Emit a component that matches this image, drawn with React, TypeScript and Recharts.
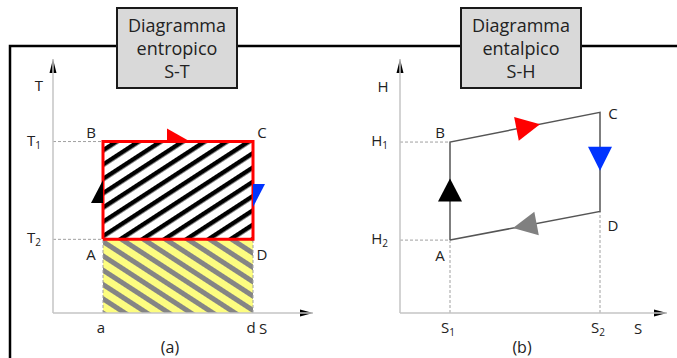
import React from "react";
import {
  LineChart,
  Line,
  XAxis,
  YAxis,
  ReferenceArea,
  ReferenceLine,
  ReferenceDot,
} from "recharts";

// ciclo A-B-C-D
const points = ["A", "B", "C", "D"];

// diagramma entropico S-T
const stS = [1, 1, 4, 4];
const stT = [2.9, 6.75, 6.75, 2.9];
const stXTicks = [1, 4];
const stXLabels = ["a", "d"];
const stYTicks = [2.9, 6.75];
const stYLabels = [["T", "2"], ["T", "1"]];

// diagramma entalpico S-H
const shS = [1, 1, 4, 4];
const shH = [2.87, 6.73, 7.9, 4.0];
const shXTicks = [1, 4];
const shXLabels = [["S", "1"], ["S", "2"]];
const shYTicks = [2.87, 6.73];
const shYLabels = [["H", "2"], ["H", "1"]];

const titles = [
  ["Diagramma", "entropico", "S-T"],
  ["Diagramma", "entalpico", "S-H"],
];
const captions = ["(a)", "(b)"];

const FONT = "'Open Sans', 'DejaVu Sans', sans-serif";
const INK = "#222";
const AXIS = "#c4c4c4";
const GUIDE = "#a0a0a0";
const LABEL = 15;

const stData = [...points, "A"].map((_, i) => ({ s: stS[i % 4], t: stT[i % 4] }));
const shData = [...points, "A"].map((_, i) => ({ s: shS[i % 4], h: shH[i % 4] }));

// triangle arrow head on a segment, tip at the segment end
const arrowShape = (color: string, len: number, hw: number, half = false) => (p: any) => {
  const dx = p.x2 - p.x1;
  const dy = p.y2 - p.y1;
  const L = Math.hypot(dx, dy) || 1;
  const ux = dx / L;
  const uy = dy / L;
  const nx = -uy;
  const ny = ux;
  const bx = p.x2 - ux * len;
  const by = p.y2 - uy * len;
  const pts = half
    ? [[p.x2, p.y2], [bx, by], [bx - nx * hw, by - ny * hw]]
    : [[p.x2, p.y2], [bx + nx * hw, by + ny * hw], [bx - nx * hw, by - ny * hw]];
  return <polygon points={pts.map((q) => q.join(",")).join(" ")} fill={color} />;
};

const textAt = (txt: string, dx: number, dy: number, size = LABEL) => (p: any) => (
  <text
    x={p.cx + dx}
    y={p.cy + dy}
    textAnchor="middle"
    dominantBaseline="central"
    fontSize={size}
    fill={INK}
    fontFamily={FONT}
  >
    {txt}
  </text>
);

const subText = (x: number, y: number, base: string, sub: string, anchor: "middle" | "end") => (
  <text x={x} y={y} textAnchor={anchor} fontSize={LABEL} fill={INK} fontFamily={FONT}>
    <tspan>{base}</tspan>
    <tspan fontSize={10} dy={3}>{sub}</tspan>
  </text>
);

const yTick = (labels: string[][]) => (p: any) =>
  subText(p.x - 12, p.y + 4, labels[p.index][0], labels[p.index][1], "end");

const axisLine = { stroke: AXIS, strokeWidth: 1.5 };

function STChart() {
  const guides = [
    [[0, stT[1]], [stS[1], stT[1]]],
    [[0, stT[0]], [stS[0], stT[0]]],
    [[stS[0], 0], [stS[0], stT[0]]],
    [[stS[3], 0], [stS[3], stT[3]]],
  ];
  const labelOffsets = [[-12, 15], [-12, -10], [9, -10], [9, 15]];
  return (
    <LineChart width={340} height={358} data={stData} margin={{ top: 59, right: 27, bottom: 0, left: 0 }}>
      <XAxis
        dataKey="s"
        type="number"
        domain={[0, 5.2]}
        ticks={stXTicks}
        height={45}
        tickSize={0}
        tickMargin={0}
        tickLine={false}
        axisLine={axisLine}
        tick={(p: any) => (
          <text x={p.x - 2} y={p.y + 20} textAnchor="middle" fontSize={LABEL} fill={INK} fontFamily={FONT}>
            {stXLabels[p.index]}
          </text>
        )}
      />
      <YAxis
        type="number"
        domain={[0, 10]}
        ticks={stYTicks}
        width={53}
        tickSize={0}
        tickMargin={0}
        tickLine={false}
        axisLine={axisLine}
        tick={yTick(stYLabels)}
      />
      {guides.map((g, i) => (
        <ReferenceLine
          key={"g" + i}
          segment={[{ x: g[0][0], y: g[0][1] }, { x: g[1][0], y: g[1][1] }]}
          stroke={GUIDE}
          strokeDasharray="3 2"
          strokeWidth={1}
        />
      ))}
      <ReferenceArea x1={stS[0]} x2={stS[3]} y1={0} y2={stT[0]} fill="url(#hatchYellow)" fillOpacity={1} stroke="none" />
      <ReferenceArea x1={stS[1]} x2={stS[2]} y1={stT[0]} y2={stT[1]} fill="url(#hatchBlack)" fillOpacity={1} stroke="none" />
      <Line dataKey="t" stroke="#ff0000" strokeWidth={3} dot={false} isAnimationActive={false} strokeLinejoin="miter" />
      {/* frecce del ciclo */}
      <ReferenceLine segment={[{ x: 2.2, y: stT[1] }, { x: 2.74, y: stT[1] }]} shape={arrowShape("#ff0000", 23, 13, true)} />
      <ReferenceLine segment={[{ x: stS[0], y: 4.5 }, { x: stS[0], y: 5.24 }]} shape={arrowShape("#000000", 23, 12, true)} />
      <ReferenceLine segment={[{ x: stS[3], y: 5.0 }, { x: stS[3], y: 4.17 }]} shape={arrowShape("#0033ff", 23, 12, true)} />
      {/* frecce degli assi */}
      <ReferenceLine segment={[{ x: 4.9, y: 0 }, { x: 5.2, y: 0 }]} shape={arrowShape("#000", 13, 3.5)} />
      <ReferenceLine segment={[{ x: 0, y: 9.4 }, { x: 0, y: 10 }]} shape={arrowShape("#000", 14, 3.5)} />
      {points.map((k, i) => (
        <ReferenceDot key={k} x={stS[i]} y={stT[i]} r={0} shape={textAt(k, labelOffsets[i][0], labelOffsets[i][1])} />
      ))}
      <ReferenceDot x={0} y={8.98} r={0} shape={textAt("T", -14, 0)} />
      <ReferenceDot x={4.2} y={0} r={0} shape={textAt("S", 0, 15)} />
      <ReferenceDot x={2.34} y={0} r={0} shape={textAt(captions[0], 0, 34, 16)} />
    </LineChart>
  );
}

function SHChart() {
  const guides = [
    [[0, shH[1]], [shS[1], shH[1]]],
    [[0, shH[0]], [shS[0], shH[0]]],
    [[shS[0], 0], [shS[0], shH[0]]],
    [[shS[3], 0], [shS[3], shH[3]]],
  ];
  const labelOffsets = [[-10, 15], [-10, -10], [13, 1], [13, 14]];
  return (
    <LineChart width={337} height={358} data={shData} margin={{ top: 59, right: 10, bottom: 0, left: 0 }}>
      <XAxis
        dataKey="s"
        type="number"
        domain={[0, 5.34]}
        ticks={shXTicks}
        height={45}
        tickSize={0}
        tickMargin={0}
        tickLine={false}
        axisLine={axisLine}
        tick={(p: any) => subText(p.x - 2, p.y + 20, shXLabels[p.index][0], shXLabels[p.index][1], "middle")}
      />
      <YAxis
        type="number"
        domain={[0, 10]}
        ticks={shYTicks}
        width={60}
        tickSize={0}
        tickMargin={0}
        tickLine={false}
        axisLine={axisLine}
        tick={yTick(shYLabels)}
      />
      {guides.map((g, i) => (
        <ReferenceLine
          key={"g" + i}
          segment={[{ x: g[0][0], y: g[0][1] }, { x: g[1][0], y: g[1][1] }]}
          stroke={GUIDE}
          strokeDasharray="3 2"
          strokeWidth={1}
        />
      ))}
      <Line dataKey="h" stroke="#555" strokeWidth={1.5} dot={false} isAnimationActive={false} />
      {/* frecce del ciclo */}
      <ReferenceLine
        segment={[{ x: 2.3, y: shH[1] + (shH[2] - shH[1]) * (1.3 / 3) }, { x: 2.8, y: shH[1] + (shH[2] - shH[1]) * (1.8 / 3) }]}
        shape={arrowShape("#ff0000", 24, 12)}
      />
      <ReferenceLine segment={[{ x: shS[3], y: 7 }, { x: shS[3], y: 5.6 }]} shape={arrowShape("#0033ff", 24, 12)} />
      <ReferenceLine segment={[{ x: shS[0], y: 4.6 }, { x: shS[0], y: 5.3 }]} shape={arrowShape("#000000", 23, 12)} />
      <ReferenceLine
        segment={[{ x: 3.0, y: shH[0] + (shH[3] - shH[0]) * (2 / 3) }, { x: 2.26, y: shH[0] + (shH[3] - shH[0]) * (1.26 / 3) }]}
        shape={arrowShape("#808080", 24, 12)}
      />
      {/* frecce degli assi */}
      <ReferenceLine segment={[{ x: 5.0, y: 0 }, { x: 5.34, y: 0 }]} shape={arrowShape("#000", 13, 3.5)} />
      <ReferenceLine segment={[{ x: 0, y: 9.4 }, { x: 0, y: 10 }]} shape={arrowShape("#000", 14, 3.5)} />
      {points.map((k, i) => (
        <ReferenceDot key={k} x={shS[i]} y={shH[i]} r={0} shape={textAt(k, labelOffsets[i][0], labelOffsets[i][1])} />
      ))}
      <ReferenceDot x={0} y={8.94} r={0} shape={textAt("H", -17, 0)} />
      <ReferenceDot x={4.76} y={0} r={0} shape={textAt("S", 0, 15)} />
      <ReferenceDot x={2.44} y={0} r={0} shape={textAt(captions[1], 0, 34, 16)} />
    </LineChart>
  );
}

function TitleBox({ left, lines }: { left: number; lines: string[] }) {
  return (
    <div
      style={{
        position: "absolute",
        left,
        top: 7,
        width: 122,
        height: 82,
        boxSizing: "border-box",
        border: "2px solid #1a1a1a",
        background: "#d9d9d9",
        display: "flex",
        flexDirection: "column",
        alignItems: "center",
        justifyContent: "center",
        fontFamily: FONT,
        fontSize: 18,
        lineHeight: "23px",
        color: INK,
      }}
    >
      {lines.map((l) => (
        <div key={l}>{l}</div>
      ))}
    </div>
  );
}

export default function App() {
  return (
    <div style={{ position: "absolute", left: 0, top: 0, width: 677, height: 358, background: "#fff", overflow: "hidden" }}>
      <svg width={677} height={358} style={{ position: "absolute", left: 0, top: 0 }}>
        <defs>
          <pattern id="hatchBlack" patternUnits="userSpaceOnUse" width={20} height={12} patternTransform="rotate(-33)">
            <rect width={20} height={12} fill="#ffffff" />
            <rect width={20} height={4.5} fill="#000000" />
          </pattern>
          <pattern id="hatchYellow" patternUnits="userSpaceOnUse" width={20} height={12} patternTransform="rotate(33)">
            <rect width={20} height={12} fill="#fdfd80" />
            <rect width={20} height={5} fill="#858585" />
          </pattern>
        </defs>
        <polyline points="10,358 10,46 677,46" fill="none" stroke="#000" strokeWidth={2.5} />
      </svg>
      <div style={{ position: "absolute", left: 0, top: 0 }}>
        <STChart />
      </div>
      <div style={{ position: "absolute", left: 340, top: 0 }}>
        <SHChart />
      </div>
      <TitleBox left={116} lines={titles[0]} />
      <TitleBox left={460} lines={titles[1]} />
    </div>
  );
}
